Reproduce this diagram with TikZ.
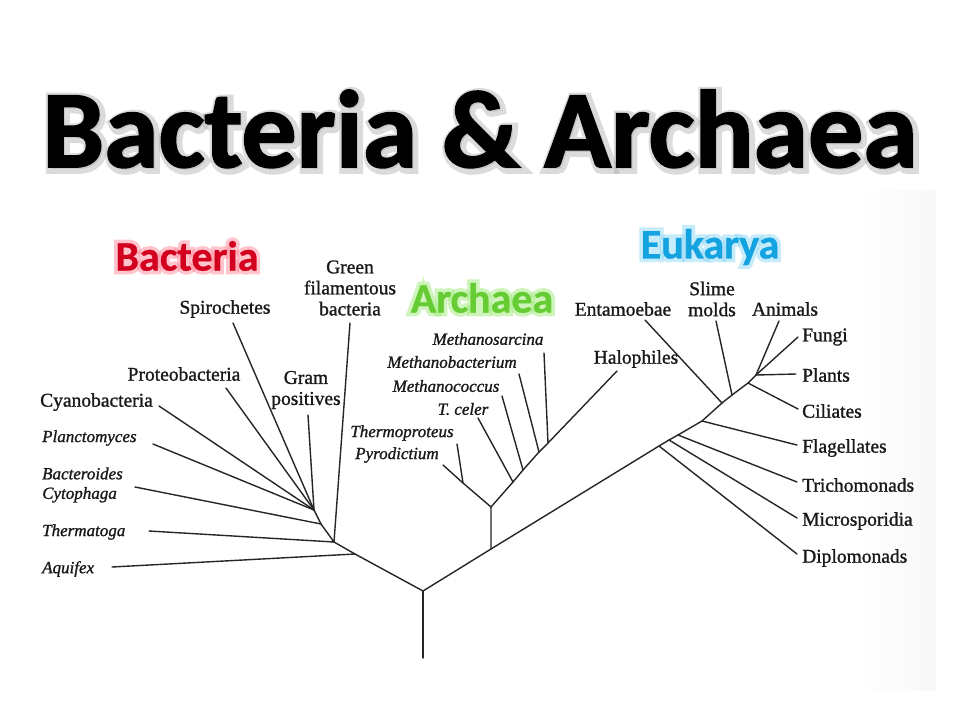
\documentclass[tikz,border=0pt]{standalone}
\usepackage{fontspec}
\setmainfont{Liberation Serif}[UprightFeatures={FakeBold=1.2}, ItalicFeatures={FakeBold=1.2}]
\newfontfamily\titlefont{Carlito}[BoldFeatures={FakeBold=1.6}]
\newfontfamily\titleshadow{Carlito}[BoldFeatures={FakeBold=9}]
\newfontfamily\headfont{Carlito}[BoldFeatures={FakeBold=0.6}]
\newfontfamily\headglow{Carlito}[BoldFeatures={FakeBold=18}]
\usetikzlibrary{calc}
\definecolor{bacred}{HTML}{D2001E}
\definecolor{bacglow}{HTML}{FF8A9A}
\definecolor{arcgreen}{HTML}{66CC33}
\definecolor{arcglow}{HTML}{9EEB7A}
\definecolor{eukblue}{HTML}{13A3E0}
\definecolor{eukglow}{HTML}{8FD8F8}
\tikzset{
  branch/.style={line width=1.4pt, black!85, line cap=round, line join=round},
  lab/.style={font=\fontsize{19.5}{21}\selectfont, align=center, inner sep=0pt, text=black!90},
  ilab/.style={font=\fontsize{17}{19.5}\selectfont\itshape, align=left, inner sep=0pt, text=black!90},
  head/.style={font=\headfont\bfseries\fontsize{42}{44}\selectfont, inner sep=0pt},
  headg/.style={font=\headglow\bfseries\fontsize{42}{44}\selectfont, inner sep=0pt, opacity=0.5},
  ttl/.style={font=\titlefont\bfseries\fontsize{110}{120}\selectfont, inner sep=0pt, anchor=base},
  ttlsh/.style={font=\titleshadow\bfseries\fontsize{110}{120}\selectfont, inner sep=0pt, anchor=base, text=black!35, opacity=0.4},
}
\newcommand\glowlabel[5]{%
  \node[headg, text=#4] (#1g) at (#2) {#5};
  \node[head, text=#3] (#1) at (#2) {#5};}
\begin{document}
\begin{tikzpicture}[x=1pt,y=-1pt]
\useasboundingbox (0,0) rectangle (960,720);
\fill[white] (0,0) rectangle (960,720);
\shade[left color=white, right color=black!3] (860,190) rectangle (936,690);

% ---------- title ----------
\coordinate (tpos) at (480,167);
\node[ttlsh] (titlesh) at ($(tpos)+(2,2)$) {Bacteria \& Archaea};
\node[ttl] (title) at (tpos) {Bacteria \& Archaea};

% ---------- domain headings ----------
\coordinate (hb) at (187,256);
\coordinate (ha) at (482,298);
\coordinate (he) at (710,247);
\glowlabel{bact}{hb}{bacred}{bacglow}{Bacteria}
\glowlabel{arch}{ha}{arcgreen}{arcglow}{Archaea}
\glowlabel{euk}{he}{eukblue}{eukglow}{Eukarya}

% ---------- junctions ----------
\coordinate (rb) at (423,658);
\coordinate (R) at (423,591);
\coordinate (A1) at (355,554);
\coordinate (A2) at (334,542);
\coordinate (A3) at (321,524);
\coordinate (A4) at (314,510);
\coordinate (AR) at (491,549);
\coordinate (AJ) at (491,507);
\coordinate (P1) at (463,483);
\coordinate (T1) at (513,482);
\coordinate (T2) at (523,470);
\coordinate (T3) at (539,452);
\coordinate (T4) at (548,443);
\coordinate (E1) at (659,446);
\coordinate (E2) at (669,440);
\coordinate (E3) at (678,435);
\coordinate (E4) at (702,421);
\coordinate (E5) at (722,403);
\coordinate (E6) at (732,395);
\coordinate (E7) at (748,383);
\coordinate (E8) at (756,375);

% ---------- branch tips ----------
\coordinate (eAqu) at (112,567);
\coordinate (eThg) at (149,531);
\coordinate (eGrn) at (350,323);
\coordinate (eBac) at (135,487);
\coordinate (ePla) at (153,444);
\coordinate (eCya) at (159,406);
\coordinate (ePro) at (226,388);
\coordinate (eSpi) at (233,323);
\coordinate (eGra) at (308,415);
\coordinate (ePyr) at (443,465);
\coordinate (eThp) at (457,444);
\coordinate (eTce) at (478,418);
\coordinate (eMcc) at (502,396);
\coordinate (eMba) at (519,374);
\coordinate (eMsa) at (544,353);
\coordinate (eHal) at (617,371);
\coordinate (eDip) at (797,554);
\coordinate (eMic) at (797,518);
\coordinate (eTri) at (797,482);
\coordinate (eFla) at (797,445);
\coordinate (eCil) at (798,409);
\coordinate (ePlt) at (796,374);
\coordinate (eFun) at (798,337);
\coordinate (eAni) at (779,321);
\coordinate (eSli) at (716,321);
\coordinate (eEnt) at (645,320);

% ---------- tree ----------
\draw[branch] (rb) -- (R);
\draw[branch] (R) -- (A1) -- (A2) -- (A3) -- (A4);
\draw[branch] (eAqu) -- (A1);
\draw[branch] (eThg) -- (A2);
\draw[branch] (eGrn) -- (A2);
\draw[branch] (eBac) -- (A3);
\draw[branch] (ePla) -- (A4);
\draw[branch] (eCya) -- (A4);
\draw[branch] (ePro) -- (A4);
\draw[branch] (eSpi) -- (A4);
\draw[branch] (eGra) -- (A4);

\draw[branch] (R) -- (AR) -- (AJ);
\draw[branch] (AJ) -- (P1) -- (ePyr);
\draw[branch] (eThp) -- (P1);
\draw[branch] (AJ) -- (T1) -- (T2) -- (T3) -- (T4) -- (eHal);
\draw[branch] (eTce) -- (T1);
\draw[branch] (eMcc) -- (T2);
\draw[branch] (eMba) -- (T3);
\draw[branch] (eMsa) -- (T4);

\draw[branch] (AR) -- (E1) -- (E2) -- (E3) -- (E4) -- (E5) -- (E6) -- (E7) -- (E8);
\draw[branch] (E1) -- (eDip);
\draw[branch] (E2) -- (eMic);
\draw[branch] (E3) -- (eTri);
\draw[branch] (E4) -- (eFla);
\draw[branch] (E5) -- (eEnt);
\draw[branch] (E6) -- (eSli);
\draw[branch] (E7) -- (eCil);
\draw[branch] (E8) -- (ePlt);
\draw[branch] (E8) -- (eFun);
\draw[branch] (E8) -- (eAni);

% ---------- labels: Bacteria ----------
\node[lab] (lGrn) at (350,288) {Green\\filamentous\\bacteria};
\node[lab] (lSpi) at (225,309) {Spirochetes};
\node[lab] (lPro) at (184,374) {Proteobacteria};
\node[lab] (lGra) at (306,390) {Gram\\positives};
\node[lab, anchor=west] (lCya) at (40,402) {Cyanobacteria};
\node[ilab, anchor=west] (lPla) at (42,438) {Planctomyces};
\node[ilab, anchor=west] (lBac) at (42,485) {Bacteroides\\Cytophaga};
\node[ilab, anchor=west] (lThg) at (42,532) {Thermatoga};
\node[ilab, anchor=west] (lAqu) at (42,569) {Aquifex};

% ---------- labels: Archaea ----------
\node[ilab] (lMsa) at (488,339) {Methanosarcina};
\node[ilab] (lMba) at (452,362) {Methanobacterium};
\node[ilab] (lMcc) at (446,386) {Methanococcus};
\node[ilab] (lTce) at (463,409) {T. celer};
\node[ilab] (lThp) at (402,433) {Thermoproteus};
\node[ilab] (lPyr) at (397,455) {Pyrodictium};

% ---------- labels: Eukarya ----------
\node[lab] (lEnt) at (623,309) {Entamoebae};
\node[lab] (lSli) at (712,299) {Slime\\molds};
\node[lab] (lAni) at (785,309) {Animals};
\node[lab] (lHal) at (636,359) {Halophiles};
\node[lab, anchor=west] (lFun) at (802,337) {Fungi};
\node[lab, anchor=west] (lPlt) at (802,375) {Plants};
\node[lab, anchor=west] (lCil) at (802,411) {Ciliates};
\node[lab, anchor=west] (lFla) at (802,448) {Flagellates};
\node[lab, anchor=west] (lTri) at (802,485) {Trichomonads};
\node[lab, anchor=west] (lMic) at (802,521) {Microsporidia};
\node[lab, anchor=west] (lDip) at (802,558) {Diplomonads};
\end{tikzpicture}
\end{document}
